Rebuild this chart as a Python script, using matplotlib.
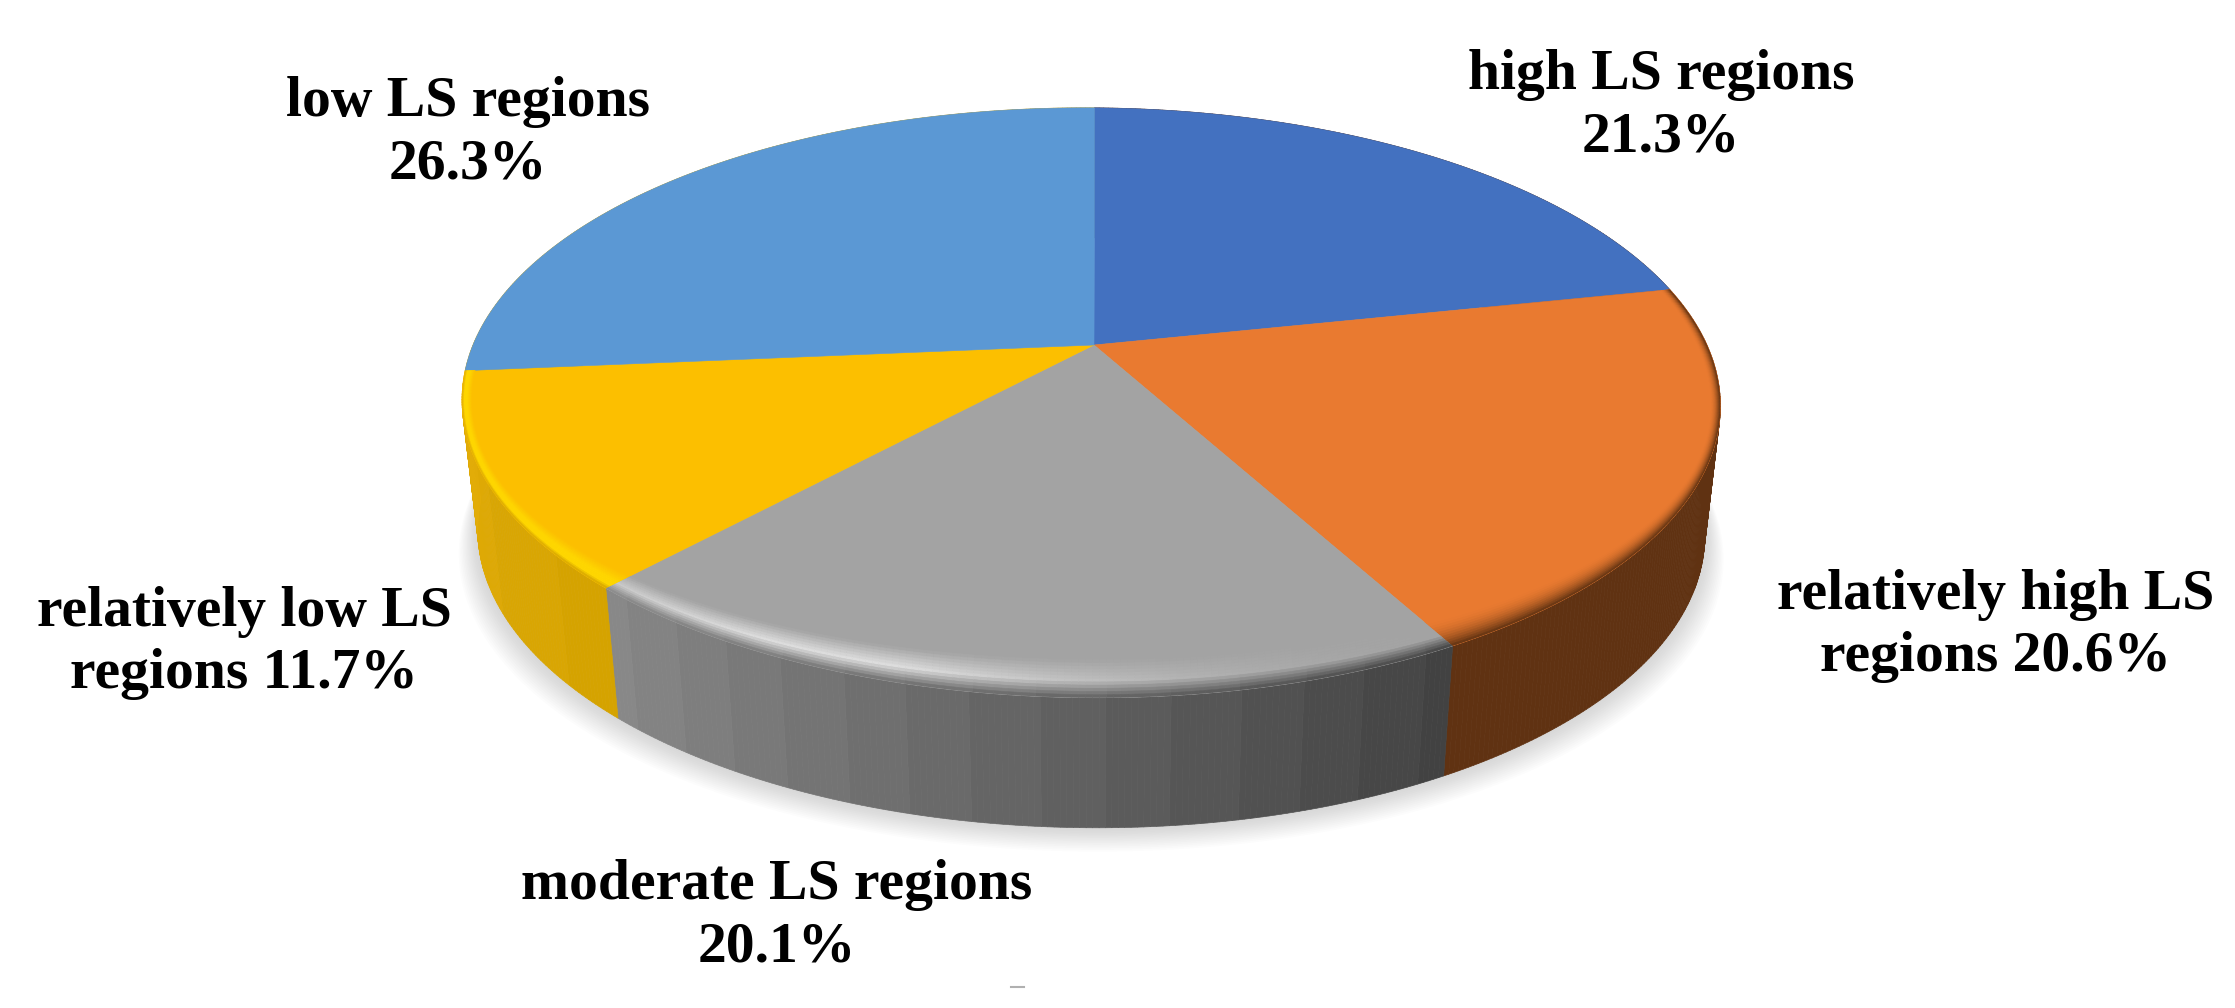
import numpy as np
import matplotlib
matplotlib.use('Agg')
import matplotlib.pyplot as plt
from matplotlib.collections import PolyCollection
from matplotlib.patches import Polygon

names = ['high LS regions', 'relatively high LS\nregions', 'moderate LS regions',
         'relatively low LS\nregions', 'low LS regions']
values = [21.3, 20.6, 20.1, 11.7, 26.3]
face_colors = ['#4371C0', '#E97A30', '#A3A3A3', '#FCBF00', '#5B98D4']
line_breaks = ['\n', ' ', '\n', ' ', '\n']

# label centres in pixels
label_x = [1661, 1996, 777, 244, 468]
label_y = [106, 626, 916, 643, 133]

WIDTH, HEIGHT = 2235, 1008
DEPTH = 130
BASE_SCALE = 0.975
BEVEL = 38
BEVEL_SIDE = 10

# where the slice edges landed in the picture, used to fit the perspective
edges = np.cumsum(values) / 100 * 2 * np.pi
anchor_t = [0, edges[0], edges[1], edges[2], edges[3], np.radians(186), np.radians(97), np.radians(258)]
anchor_px = [(1094, 108), (1667, 283), (1450, 622), (606, 597), (467, 372), (1017, 707), (1725, 407), (462, 403)]
CENTER = (1094, 345)


def fit_projection():
    rows, rhs = [], []
    pts = [(np.sin(t), np.cos(t), p) for t, p in zip(anchor_t, anchor_px)]
    pts.append((0, 0, CENTER))
    for u, v, (x, y) in pts:
        rows.append([u, v, 1, 0, 0, 0, -x * u, -x * v])
        rhs.append(x)
        rows.append([0, 0, 0, u, v, 1, -y * u, -y * v])
        rhs.append(y)
    h = np.linalg.lstsq(np.array(rows, float), np.array(rhs, float), rcond=None)[0]
    return np.append(h, 1).reshape(3, 3)


H = fit_projection()


def rim(t, r=1.0):
    u, v = r * np.sin(t), r * np.cos(t)
    w = H[2, 0] * u + H[2, 1] * v + H[2, 2]
    return (H[0, 0] * u + H[0, 1] * v + H[0, 2]) / w, (H[1, 0] * u + H[1, 1] * v + H[1, 2]) / w


def base(t):
    x, y = rim(t)
    return CENTER[0] + (x - CENTER[0]) * BASE_SCALE, y + DEPTH


def bevel_edge(t, s):
    # s=1 is the top of the wall, s=0 the inner edge of the rounded lip
    x, y = rim(t)
    front = np.clip(-np.cos(t), 0, 1)
    return x - (1 - s) * BEVEL_SIDE * np.sin(t), y - (1 - s) * BEVEL * front ** 2


def mix(c1, c2, f):
    return tuple(np.array(c1) * (1 - f) + np.array(c2) * f)


def rgb(*c):
    return tuple(v / 255 for v in c)


def wall_color(i, f):
    # f runs 0..1 clockwise along the slice
    if i == 1:
        return rgb(96, 50, 18)
    if i == 2:
        return mix(rgb(66, 66, 66), rgb(136, 136, 136), round(f * 14) / 14)
    if i == 3:
        return mix(rgb(213, 163, 0), rgb(226, 172, 8), round(f * 3) / 3)
    if i == 4:
        return rgb(226, 172, 8)
    return rgb(96, 50, 18)


def bevel_color(i, f, s):
    top = matplotlib.colors.to_rgb(face_colors[i])
    wall = wall_color(i, f)
    if i == 2:
        shine = rgb(222, 222, 222)
        amount = np.clip(f * 1.6, 0, 1) * np.clip(1.15 - abs(f - 0.68) * 1.6, 0, 1)
        if s < 0.55:
            return mix(top, shine, amount * (s / 0.55))
        return mix(mix(top, shine, amount), wall, (s - 0.55) / 0.45)
    if i == 3:
        if s < 0.5:
            return mix(top, rgb(255, 215, 0), s / 0.5)
        return mix(rgb(255, 215, 0), wall, max(0, (s - 0.8) / 0.2))
    if i == 1:
        return mix(top, wall, s ** 2)
    return top


def main():
    fig = plt.figure(figsize=(WIDTH / 100, HEIGHT / 100), dpi=100)
    ax = fig.add_axes([0, 0, 1, 1])
    ax.set_xlim(0, WIDTH)
    ax.set_ylim(HEIGHT, 0)
    ax.axis('off')

    # soft shadow under the disc
    tt = np.linspace(0, 2 * np.pi, 361)
    bx, by = base(tt)
    for k in range(14, 0, -1):
        grow = 1 + 0.0022 * k
        ax.fill(CENTER[0] + (bx - CENTER[0]) * grow, by + 1.7 * k,
                color='#8a8a8a', alpha=0.022, lw=0, zorder=1)

    starts = np.concatenate([[0], edges[:-1]])

    # side wall, cut in thin strips, back slices first
    wall_polys, wall_cols = [], []
    for i in (4, 0, 1, 2, 3):
        a, b = starts[i], edges[i]
        n = int((b - a) / np.radians(0.5)) + 1
        ts = np.linspace(a, b, n + 1)
        for j in range(n):
            f = (j + 0.5) / n
            x0, y0 = rim(ts[j])
            x1, y1 = rim(ts[j + 1])
            x2, y2 = base(ts[j + 1])
            x3, y3 = base(ts[j])
            wall_polys.append([(x0, y0), (x1, y1), (x2, y2), (x3, y3)])
            wall_cols.append(wall_color(i, f))
    ax.add_collection(PolyCollection(wall_polys, facecolors=wall_cols, edgecolors=wall_cols,
                                     linewidths=0.5, zorder=2))

    # flat top of each slice
    wedges = []
    for i, (a, b) in enumerate(zip(starts, edges)):
        ts = np.linspace(a, b, 200)
        x, y = rim(ts)
        ax.fill(np.r_[CENTER[0], x], np.r_[CENTER[1], y], color=face_colors[i], lw=0.4, zorder=3)
        wedges.append(np.column_stack([np.r_[CENTER[0], x], np.r_[CENTER[1], y]]))

    # rounded lip on the front slices, kept inside each wedge
    levels = np.linspace(0, 1, 13)
    for i in (1, 2, 3):
        polys, cols = [], []
        a, b = starts[i], edges[i]
        n = int((b - a) / np.radians(0.5)) + 1
        ts = np.linspace(a - 0.05, b + 0.05, n + 1)
        for j in range(n):
            f = np.clip(((ts[j] + ts[j + 1]) / 2 - a) / (b - a), 0, 1)
            for k in range(len(levels) - 1):
                s = (k + 0.5) / (len(levels) - 1)
                x0, y0 = bevel_edge(ts[j], levels[k])
                x1, y1 = bevel_edge(ts[j + 1], levels[k])
                x2, y2 = bevel_edge(ts[j + 1], levels[k + 1])
                x3, y3 = bevel_edge(ts[j], levels[k + 1])
                polys.append([(x0, y0), (x1, y1), (x2, y2), (x3, y3)])
                cols.append(bevel_color(i, f, s))
        lip = PolyCollection(polys, facecolors=cols, edgecolors=cols, linewidths=0.4, zorder=4)
        ax.add_collection(lip)
        lip.set_clip_path(Polygon(wedges[i], transform=ax.transData))

    for name, val, sep, x, y in zip(names, values, line_breaks, label_x, label_y):
        text = f'{name}{sep}{val}%'
        ax.text(x, y, text, ha='center', va='center', family='Liberation Serif',
                weight='bold', fontsize=41.5, color='black', linespacing=1.27, zorder=5)

    # stray mark at the bottom of the figure
    ax.plot([1011, 1024], [987, 987], color='#b0b0b0', lw=1.5, zorder=5)

    fig.savefig('out.png', dpi=100)


if __name__ == '__main__':
    main()
